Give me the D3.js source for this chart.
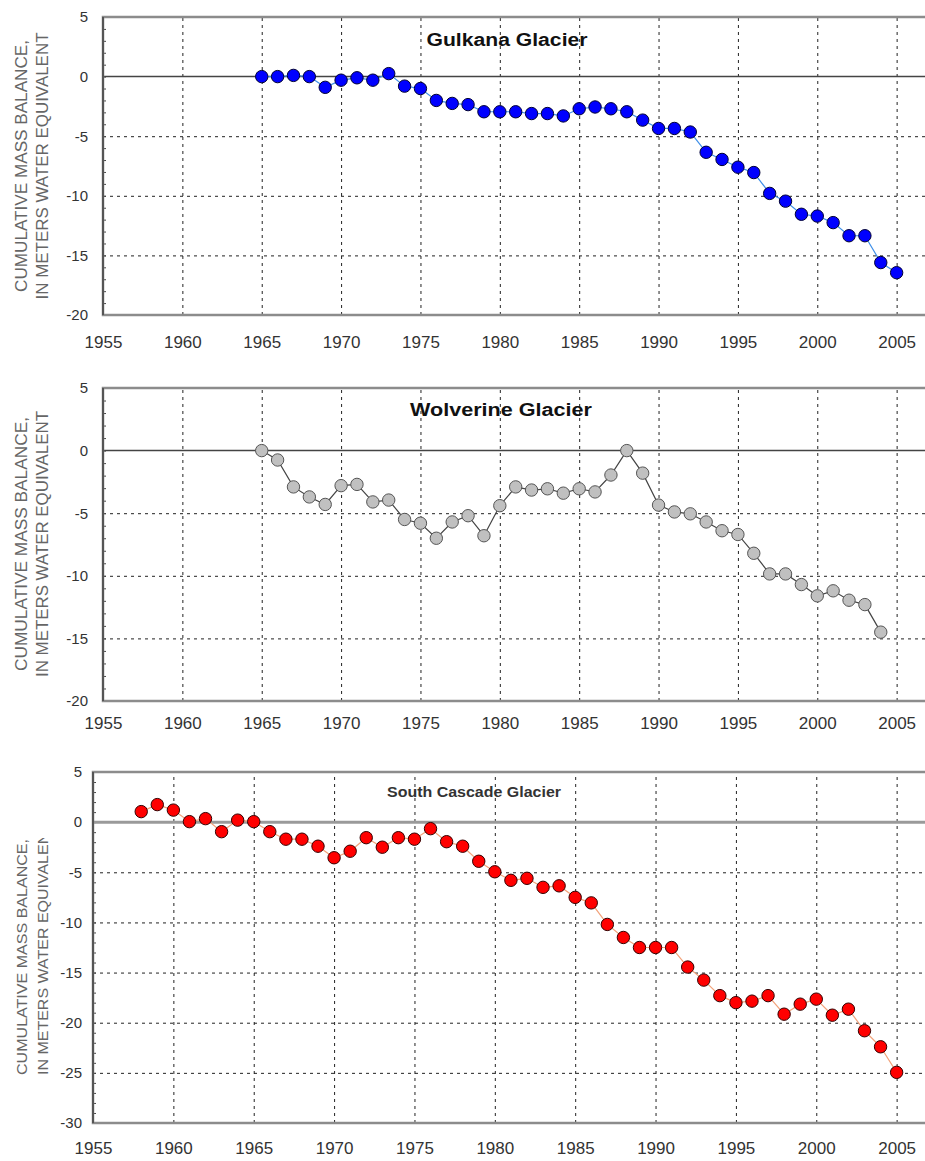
<!DOCTYPE html>
<html>
<head>
<meta charset="utf-8">
<script src="https://cdn.jsdelivr.net/npm/d3@7"></script>
<style>
  body { margin: 0; background: #fff; }
  svg { display: block; font-family: Arial, "Liberation Sans", sans-serif; }
</style>
</head>
<body>
<script>
var width = 925,
    height = 1161;

// data
var gulkanaYears = [1965,1966,1967,1968,1969,1970,1971,1972,1973,1974,
    1975,1976,1977,1978,1979,1980,1981,1982,1983,1984,
    1985,1986,1987,1988,1989,1990,1991,1992,1993,1994,
    1995,1996,1997,1998,1999,2000,2001,2002,2003,2004,2005];
var gulkanaValues = [0.0, 0.0, 0.1, 0.0, -0.9, -0.3, -0.1, -0.3, 0.25, -0.8,
    -1.0, -2.0, -2.25, -2.35, -2.95, -2.95, -2.95, -3.1, -3.1, -3.3,
    -2.7, -2.55, -2.7, -2.95, -3.65, -4.35, -4.35, -4.65, -6.35, -6.95,
    -7.6, -8.05, -9.8, -10.45, -11.55, -11.7, -12.25, -13.35, -13.35, -15.6, -16.45];

var wolverineYears = [1965,1966,1967,1968,1969,1970,1971,1972,1973,1974,
    1975,1976,1977,1978,1979,1980,1981,1982,1983,1984,
    1985,1986,1987,1988,1989,1990,1991,1992,1993,1994,
    1995,1996,1997,1998,1999,2000,2001,2002,2003,2004];
var wolverineValues = [0.0, -0.75, -2.9, -3.7, -4.3, -2.8, -2.7, -4.1, -3.95, -5.5,
    -5.8, -7.0, -5.7, -5.2, -6.8, -4.4, -2.9, -3.15, -3.05, -3.4,
    -3.05, -3.3, -1.95, 0.0, -1.8, -4.35, -4.9, -5.05, -5.7, -6.4,
    -6.7, -8.2, -9.85, -9.85, -10.7, -11.6, -11.2, -11.95, -12.3, -14.5];

var cascadeYears = [1958,1959,1960,1961,1962,1963,1964,
    1965,1966,1967,1968,1969,1970,1971,1972,1973,1974,
    1975,1976,1977,1978,1979,1980,1981,1982,1983,1984,
    1985,1986,1987,1988,1989,1990,1991,1992,1993,1994,
    1995,1996,1997,1998,1999,2000,2001,2002,2003,2004,2005];
var cascadeValues = [1.05, 1.75, 1.2, 0.05, 0.35, -0.95, 0.2,
    0.05, -0.95, -1.7, -1.7, -2.4, -3.55, -2.9, -1.55, -2.5, -1.55,
    -1.7, -0.65, -1.95, -2.4, -3.9, -4.95, -5.8, -5.6, -6.5, -6.35,
    -7.5, -8.05, -10.2, -11.5, -12.5, -12.5, -12.5, -14.45, -15.75, -17.3,
    -18.0, -17.85, -17.3, -19.15, -18.15, -17.65, -19.25, -18.65, -20.8, -22.4, -24.95];

var xTicks = [1955,1960,1965,1970,1975,1980,1985,1990,1995,2000,2005];
var yTicksA = [5,0,-5,-10,-15,-20];
var yTicksB = [5,0,-5,-10,-15,-20,-25,-30];
var titleLine1 = 'CUMULATIVE MASS BALANCE,',
    titleLine2 = 'IN METERS WATER EQUIVALENT';

var svg = d3.select('body').append('svg')
    .attr('width', width)
    .attr('height', height);

var defs = svg.append('defs');

var panels = [
  { name: 'Gulkana Glacier', years: gulkanaYears, values: gulkanaValues, yTicks: yTicksA,
    left: 103, right: 976, top: 17, bottom: 315, xLabelY: 342, yLabelX: 88,
    titleX: 507, titleY: 40, titleW: 161, titleSize: 18, titleWeight: 'bold', titleFill: '#111',
    yt1: 252, yt2: 267, ytSize: 16, ytAnchor: 'middle', ytPos: 166,
    fill: '#0000ff', stroke: '#000033', line: '#3f8fe8', zero: '#444', zeroW: 1.5 },
  { name: 'Wolverine Glacier', years: wolverineYears, values: wolverineValues, yTicks: yTicksA,
    left: 103, right: 976, top: 388, bottom: 701, xLabelY: 723, yLabelX: 88,
    titleX: 501, titleY: 410, titleW: 182, titleSize: 18, titleWeight: 'bold', titleFill: '#111',
    yt1: 254, yt2: 266, ytSize: 16, ytAnchor: 'middle', ytPos: 544,
    fill: '#c0c0c0', stroke: '#555', line: '#444', zero: '#444', zeroW: 1.5 },
  { name: 'South Cascade Glacier', years: cascadeYears, values: cascadeValues, yTicks: yTicksB,
    left: 93, right: 977, top: 772, bottom: 1123, xLabelY: 1148, yLabelX: 82,
    titleX: 474, titleY: 792, titleW: 174, titleSize: 14, titleWeight: 'bold', titleFill: '#333',
    yt1: 236, yt2: 252, ytSize: 15, ytAnchor: 'start', ytPos: 1075, clipTop: 838,
    fill: '#ff0000', stroke: '#330000', line: '#f2a27a', zero: '#9a9a9a', zeroW: 3 }
];

panels.forEach(function(p, i) {

  var x = d3.scaleLinear().domain([1955, 2010]).range([p.left, p.right]);
  var yMin = d3.min(p.yTicks), yMax = d3.max(p.yTicks);
  var y = d3.scaleLinear().domain([yMin, yMax]).range([p.bottom, p.top]);

  var g = svg.append('g').attr('class', 'panel' + i);

  // dashed grid from the axes
  var gx = g.append('g')
      .attr('transform', 'translate(0,' + p.bottom + ')')
      .call(d3.axisBottom(x)
          .tickValues(xTicks.slice(1))
          .tickSize(-(p.bottom - p.top))
          .tickFormat(''));
  gx.select('.domain').remove();
  gx.selectAll('line').attr('stroke', '#222').attr('stroke-dasharray', '3,4');

  var gy = g.append('g')
      .attr('transform', 'translate(' + p.left + ',0)')
      .call(d3.axisLeft(y)
          .tickValues(p.yTicks.filter(function(v){ return v != yMin && v != yMax && v != 0; }))
          .tickSize(-(p.right - p.left))
          .tickFormat(''));
  gy.select('.domain').remove();
  gy.selectAll('line').attr('stroke', '#222').attr('stroke-dasharray', '3,4');

  // minor ticks on left edge
  var minor = g.append('g')
      .attr('transform', 'translate(' + p.left + ',0)')
      .call(d3.axisLeft(y).ticks(yMax - yMin).tickSize(-3).tickFormat(''));
  minor.select('.domain').remove();
  minor.selectAll('line').attr('stroke', '#444');

  // zero line
  g.append('line')
      .attr('x1', p.left).attr('x2', p.right)
      .attr('y1', y(0)).attr('y2', y(0))
      .attr('stroke', p.zero).attr('stroke-width', p.zeroW);

  // frame
  g.append('rect')
      .attr('x', p.left).attr('y', p.top)
      .attr('width', p.right - p.left).attr('height', p.bottom - p.top)
      .attr('fill', 'none').attr('stroke', '#8c8c8c').attr('stroke-width', 2.5);
  g.append('line')
      .attr('x1', p.left).attr('x2', p.left)
      .attr('y1', p.top).attr('y2', p.bottom)
      .attr('stroke', '#555').attr('stroke-width', 2);

  // tick labels (plain hyphen for negatives, like the original)
  var ax = g.append('g')
      .attr('transform', 'translate(0,' + (p.xLabelY - 9) + ')')
      .call(d3.axisBottom(x).tickValues(xTicks).tickSize(0).tickFormat(function(d){ return String(d); }));
  ax.select('.domain').remove();
  ax.selectAll('text')
      .attr('font-size', 17)
      .attr('font-family', 'Arial, "Liberation Sans", sans-serif')
      .attr('fill', '#333');

  var ay = g.append('g')
      .attr('transform', 'translate(' + p.yLabelX + ',0)')
      .call(d3.axisLeft(y).tickValues(p.yTicks).tickSize(0).tickPadding(0)
          .tickFormat(function(d){ return String(d); }));
  ay.select('.domain').remove();
  ay.selectAll('text')
      .attr('font-size', 15)
      .attr('font-family', 'Arial, "Liberation Sans", sans-serif')
      .attr('fill', '#333');

  // axis title
  var tg = g.append('g');
  if (p.clipTop) {
    defs.append('clipPath').attr('id', 'clip' + i)
      .append('rect').attr('x', 0).attr('y', p.clipTop).attr('width', 70).attr('height', 400);
    tg.attr('clip-path', 'url(#clip' + i + ')');
  }
  tg.append('text')
      .attr('transform', 'translate(' + 27 + ',' + p.ytPos + ') rotate(-90)')
      .attr('text-anchor', p.ytAnchor)
      .attr('font-size', p.ytSize)
      .attr('fill', '#666')
      .attr('textLength', p.yt1)
      .attr('lengthAdjust', 'spacingAndGlyphs')
      .text(titleLine1);
  tg.append('text')
      .attr('transform', 'translate(' + 48 + ',' + p.ytPos + ') rotate(-90)')
      .attr('text-anchor', p.ytAnchor)
      .attr('font-size', p.ytSize)
      .attr('fill', '#666')
      .attr('textLength', p.yt2)
      .attr('lengthAdjust', 'spacingAndGlyphs')
      .text(titleLine2);

  // chart title
  g.append('text')
      .attr('x', p.titleX).attr('y', p.titleY)
      .attr('dy', '0.35em')
      .attr('text-anchor', 'middle')
      .attr('font-size', p.titleSize)
      .attr('font-weight', p.titleWeight)
      .attr('fill', p.titleFill)
      .attr('textLength', p.titleW)
      .attr('lengthAdjust', 'spacingAndGlyphs')
      .text(p.name);

  // series
  var pts = p.years.map(function(yr, j){ return { year: yr, value: p.values[j] }; });

  var line = d3.line()
      .x(function(d){ return x(d.year); })
      .y(function(d){ return y(d.value); });

  g.append('path')
      .datum(pts)
      .attr('d', line)
      .attr('fill', 'none')
      .attr('stroke', p.line)
      .attr('stroke-width', 1.2);

  g.selectAll('circle.dot')
      .data(pts)
      .enter().append('circle')
      .attr('class', 'dot')
      .attr('cx', function(d){ return x(d.year); })
      .attr('cy', function(d){ return y(d.value); })
      .attr('r', 6.2)
      .attr('fill', p.fill)
      .attr('stroke', p.stroke)
      .attr('stroke-width', 1);
});
</script>
</body>
</html>
